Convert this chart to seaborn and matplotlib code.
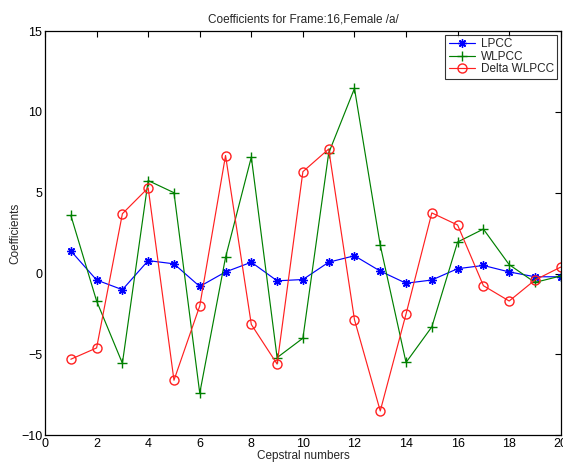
import matplotlib
matplotlib.use("Agg")
import matplotlib.pyplot as plt
import seaborn as sns
import pandas as pd

cepstral = list(range(1, 21))
lpcc = [1.4, -0.4, -1.0, 0.8, 0.6, -0.8, 0.1, 0.7, -0.45, -0.37,
        0.7, 1.1, 0.15, -0.6, -0.4, 0.3, 0.5, 0.1, -0.2, -0.2]
wlpcc = [3.6, -1.7, -5.55, 5.75, 5.0, -7.4, 1.0, 7.2, -5.2, -4.0,
         7.45, 11.45, 1.75, -5.5, -3.3, 1.95, 2.75, 0.55, -0.55, -0.15]
delta_wlpcc = [-5.3, -4.6, 3.7, 5.3, -6.6, -2.0, 7.3, -3.15, -5.6, 6.3,
               7.7, -2.85, -8.5, -2.5, 3.75, 3.0, -0.75, -1.7, -0.4, 0.4]

series_names = ["LPCC", "WLPCC", "Delta WLPCC"]
series_vals = [lpcc, wlpcc, delta_wlpcc]
colors = ["#0000ff", "#008000", "#ff2020"]
markers = [(8, 2, 0), "+", "o"]
msizes = [6, 7, 6.5]

sns.set_style("white")
plt.rcParams["font.family"] = ["Liberation Sans", "DejaVu Sans"]

fig = plt.figure(figsize=(5.63, 4.63), dpi=100)
ax = fig.add_axes([0.080, 0.060, 0.916, 0.873])

for name, vals, c, m, ms in zip(series_names, series_vals, colors, markers, msizes):
    df = pd.DataFrame({"x": cepstral, "y": vals})
    kw = dict(marker=m, markersize=ms, markeredgewidth=1.0,
              markeredgecolor=c, linewidth=0.85)
    if m == "o":
        kw["markerfacecolor"] = "none"
    sns.lineplot(data=df, x="x", y="y", ax=ax, color=c, label=name, **kw)

ax.set_xlim(0, 20)
ax.set_ylim(-10, 15)
ax.set_xticks(range(0, 21, 2))
ax.set_yticks(range(-10, 16, 5))
ax.tick_params(direction="in", length=4, width=0.8, top=True, right=True,
               labelsize=9, pad=2, colors="black")
for s in ax.spines.values():
    s.set_visible(True)
    s.set_color("black")
    s.set_linewidth(0.9)
ax.set_title("Coefficients for Frame:16,Female /a/", fontsize=8.5, pad=6)
ax.set_xlabel("Cepstral numbers", fontsize=8.5, labelpad=0)
ax.set_ylabel("Coefficients", fontsize=8.5, labelpad=0)
leg = ax.legend(loc="upper right", fontsize=8.5, frameon=True, fancybox=False,
                edgecolor="black", borderpad=0.3, labelspacing=0.05,
                handlelength=2.2, handletextpad=0.5, borderaxespad=0.3)
leg.get_frame().set_linewidth(0.8)

fig.savefig("out.png", dpi=100)
